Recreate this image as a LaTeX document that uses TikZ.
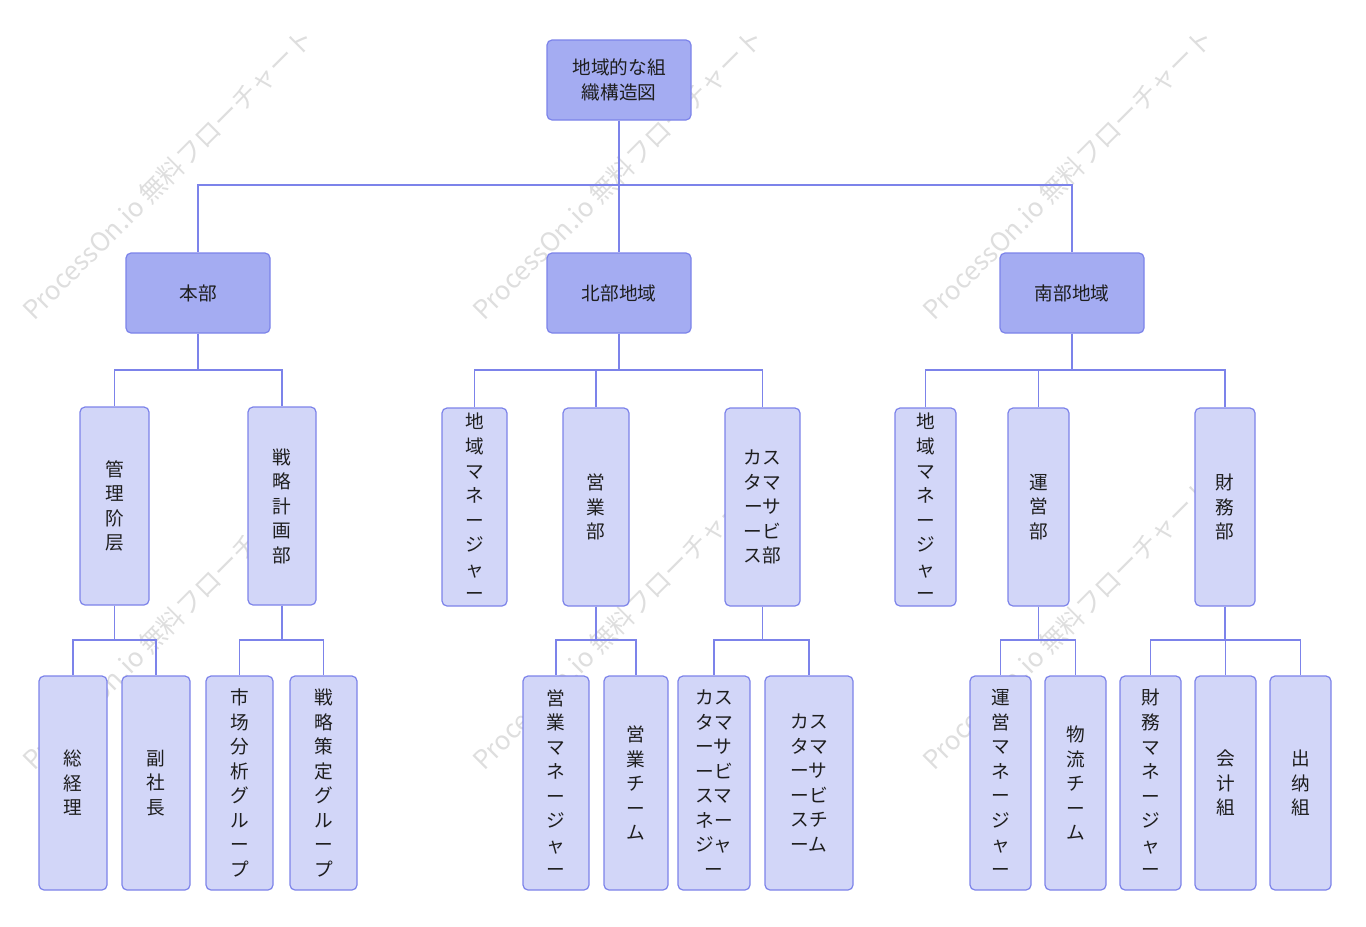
\documentclass[tikz,border=0pt]{standalone}
\usepackage{fontspec}
\setmainfont{Noto Sans CJK JP}
\definecolor{fillA}{RGB}{164,172,242}
\definecolor{fillB}{RGB}{210,214,248}
\definecolor{lineC}{RGB}{124,131,234}
\definecolor{txtC}{RGB}{30,30,30}
\definecolor{wmC}{RGB}{222,222,222}
\tikzset{
  boxbase/.style={draw=lineC, line width=0.9pt, rounded corners=3.75pt, inner sep=0pt, align=center, text=txtC, font=\fontsize{14}{18.4}\selectfont},
  lvA/.style={boxbase, fill=fillA, minimum width=108pt, minimum height=60pt},
  lvB/.style={boxbase, fill=fillB, minimum height=148.5pt},
  lvC/.style={boxbase, fill=fillB, minimum height=160.5pt},
  conn/.style={draw=lineC, line width=0.9pt},
  wm/.style={text=wmC, font=\fontsize{19.5}{22}\selectfont, inner sep=0pt, rotate=45}
}
\begin{document}
\begin{tikzpicture}[x=0.75pt,y=-0.75pt]
\useasboundingbox (0,0) rectangle (1366,926);
% watermarks
\foreach \wx in {168,618,1068}{
  \foreach \wy in {174,624}{
    \node[wm] at (\wx,\wy) {ProcessOn.io 無料フローチャート};
  }
}
% nodes
\node[lvA] (root) at (619,80) {地域的な組\\織構造図};
\node[lvA] (hq) at (198,293) {本部};
\node[lvA] (north) at (619,293) {北部地域};
\node[lvA] (south) at (1072,293) {南部地域};

\node[lvB, minimum width=51.75pt] (m1) at (114.5,506) {管\\理\\阶\\层};
\node[lvB, minimum width=51pt] (m2) at (282,506) {戦\\略\\計\\画\\部};
\node[lvB, minimum width=48.75pt] (n1) at (474.5,507) {地\\域\\マ\\ネ\\ー\\ジ\\ャ\\ー};
\node[lvB, minimum width=49.5pt] (n2) at (596,507) {営\\業\\部};
\node[lvB, minimum width=56.25pt] (n3) at (762.5,507) {カス\\タマ\\ーサ\\ービ\\ス部};
\node[lvB, minimum width=45.75pt] (s1) at (925.5,507) {地\\域\\マ\\ネ\\ー\\ジ\\ャ\\ー};
\node[lvB, minimum width=45.75pt] (s2) at (1038.5,507) {運\\営\\部};
\node[lvB, minimum width=45pt] (s3) at (1225,507) {財\\務\\部};

\node[lvC, minimum width=51pt] (a1) at (73,783) {総\\経\\理};
\node[lvC, minimum width=51pt] (a2) at (156,783) {副\\社\\長};
\node[lvC, minimum width=50.25pt] (b1) at (239.5,783) {市\\场\\分\\析\\グ\\ル\\ー\\プ};
\node[lvC, minimum width=50.25pt] (b2) at (323.5,783) {戦\\略\\策\\定\\グ\\ル\\ー\\プ};
\node[lvC, minimum width=49.5pt] (c1) at (556,783) {営\\業\\マ\\ネ\\ー\\ジ\\ャ\\ー};
\node[lvC, minimum width=48pt] (c2) at (636,783) {営\\業\\チ\\ー\\ム};
\node[lvC, minimum width=54pt] (d1) at (714,783) {カス\\タマ\\ーサ\\ービ\\スマ\\ネー\\ジャ\\ー};
\node[lvC, minimum width=66pt] (d2) at (809,783) {カス\\タマ\\ーサ\\ービ\\スチ\\ーム};
\node[lvC, minimum width=45.75pt] (e1) at (1000.5,783) {運\\営\\マ\\ネ\\ー\\ジ\\ャ\\ー};
\node[lvC, minimum width=45.75pt] (e2) at (1075.5,783) {物\\流\\チ\\ー\\ム};
\node[lvC, minimum width=45.75pt] (f1) at (1150.5,783) {財\\務\\マ\\ネ\\ー\\ジ\\ャ\\ー};
\node[lvC, minimum width=45.75pt] (f2) at (1225.5,783) {会\\计\\組};
\node[lvC, minimum width=45.75pt] (f3) at (1300.5,783) {出\\纳\\組};

% connectors
\foreach \c in {hq,north,south}{
  \draw[conn] (root.south) -- (root.south |- 0,185) -| (\c.north);
}
\foreach \c in {m1,m2}{
  \draw[conn] (hq.south) -- (hq.south |- 0,370) -| (\c.north);
}
\foreach \c in {n1,n2,n3}{
  \draw[conn] (north.south) -- (north.south |- 0,370) -| (\c.north);
}
\foreach \c in {s1,s2,s3}{
  \draw[conn] (south.south) -- (south.south |- 0,370) -| (\c.north);
}
\foreach \p/\c in {m1/a1,m1/a2,m2/b1,m2/b2,n2/c1,n2/c2,n3/d1,n3/d2,s2/e1,s2/e2,s3/f1,s3/f2,s3/f3}{
  \draw[conn] (\p.south) -- (\p.south |- 0,640) -| (\c.north);
}
\end{tikzpicture}
\end{document}
